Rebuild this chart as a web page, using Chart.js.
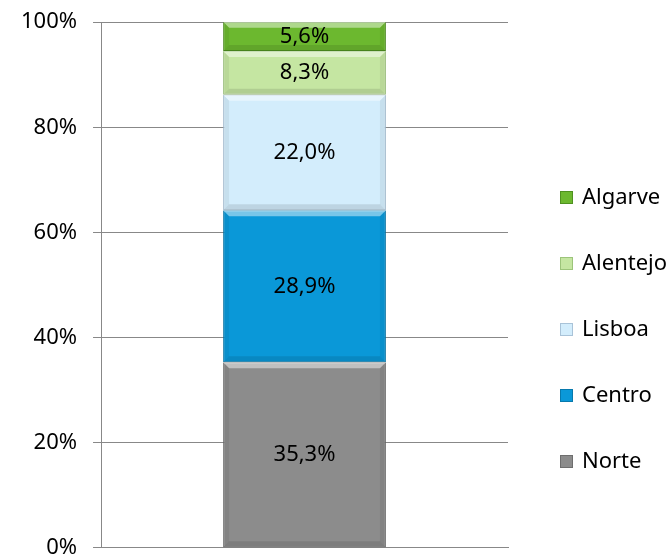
<!DOCTYPE html>
<html>
<head>
<meta charset="utf-8">
<script src="https://cdn.jsdelivr.net/npm/chart.js@4.4.1/dist/chart.umd.min.js"></script>
<style>
  html, body { margin: 0; padding: 0; background: #fff; overflow: hidden; }
  #wrap { width: 671px; height: 584px; margin-top: -7px; }
</style>
</head>
<body>
<div id="wrap"><canvas id="chart"></canvas></div>
<script>
    'use strict';

    // Data
    var categories = ['Total'];
    var seriesNames = ['Norte', 'Centro', 'Lisboa', 'Alentejo', 'Algarve'];
    var seriesValues = [35.3, 28.9, 22.0, 8.3, 5.6];
    var seriesColors = ['#8c8c8c', '#0a98d8', '#d3edfc', '#c5e6a2', '#6cb82f'];
    var seriesBorders = ['#6e6e6e', '#0779ad', '#a9c3d8', '#9cc47a', '#4f9120'];
    var tickValues = [0, 20, 40, 60, 80, 100];

    var FONT = '"Noto Sans", sans-serif';
    var FONT_SIZE = 22;

    function fmt(v) {
        return v.toFixed(1).replace('.', ',') + '%';
    }

    // Bevel-ish shading + value labels in the middle of each segment
    var segmentLabels = {
        id: 'segmentLabels',
        afterDatasetsDraw: function(chart) {
            var ctx = chart.ctx;
            ctx.save();
            chart.data.datasets.forEach(function(ds, i) {
                var meta = chart.getDatasetMeta(i);
                meta.data.forEach(function(bar) {
                    var l = bar.x - bar.width / 2, r = bar.x + bar.width / 2;
                    var t = Math.min(bar.y, bar.base), b = Math.max(bar.y, bar.base);
                    var e = 6;
                    // top highlight
                    ctx.fillStyle = 'rgba(255,255,255,0.45)';
                    ctx.beginPath();
                    ctx.moveTo(l, t); ctx.lineTo(r, t); ctx.lineTo(r - e, t + e); ctx.lineTo(l + e, t + e);
                    ctx.closePath(); ctx.fill();
                    // bottom shade
                    ctx.fillStyle = 'rgba(0,0,0,0.1)';
                    ctx.beginPath();
                    ctx.moveTo(l, b); ctx.lineTo(r, b); ctx.lineTo(r - e, b - e); ctx.lineTo(l + e, b - e);
                    ctx.closePath(); ctx.fill();
                    // side shades
                    ctx.fillStyle = 'rgba(0,0,0,0.06)';
                    ctx.beginPath();
                    ctx.moveTo(l, t); ctx.lineTo(l + e, t + e); ctx.lineTo(l + e, b - e); ctx.lineTo(l, b);
                    ctx.closePath(); ctx.fill();
                    ctx.beginPath();
                    ctx.moveTo(r, t); ctx.lineTo(r - e, t + e); ctx.lineTo(r - e, b - e); ctx.lineTo(r, b);
                    ctx.closePath(); ctx.fill();
                });
            });
            ctx.font = FONT_SIZE + 'px ' + FONT;
            ctx.fillStyle = '#000';
            ctx.textAlign = 'center';
            ctx.textBaseline = 'middle';
            chart.data.datasets.forEach(function(ds, i) {
                var meta = chart.getDatasetMeta(i);
                meta.data.forEach(function(bar, j) {
                    var y = (bar.y + bar.base) / 2;
                    ctx.fillText(fmt(ds.data[j]), bar.x, y);
                });
            });
            ctx.restore();
        }
    };

    // Legend on the right, top entry = last series
    var sideLegend = {
        id: 'sideLegend',
        afterDraw: function(chart) {
            var ctx = chart.ctx;
            var x = 560, y0 = 204, step = 66;
            ctx.save();
            ctx.font = FONT_SIZE + 'px ' + FONT;
            ctx.textBaseline = 'middle';
            ctx.textAlign = 'left';
            var n = chart.data.datasets.length;
            for (var k = 0; k < n; k++) {
                var ds = chart.data.datasets[n - 1 - k];
                var y = y0 + k * step;
                ctx.fillStyle = ds.backgroundColor;
                ctx.fillRect(x, y - 6, 13, 13);
                ctx.strokeStyle = ds.borderColor;
                ctx.lineWidth = 1;
                ctx.strokeRect(x + 0.5, y - 5.5, 12, 12);
                ctx.fillStyle = '#000';
                ctx.fillText(ds.label, x + 22, y + 1);
            }
            ctx.restore();
        }
    };

    var datasets = seriesNames.map(function(name, i) {
        return {
            label: name,
            data: [seriesValues[i]],
            backgroundColor: seriesColors[i],
            borderColor: seriesBorders[i],
            borderWidth: 1,
            borderSkipped: false,
            categoryPercentage: 1,
            barPercentage: 0.4
        };
    });

    new Chart(document.getElementById('chart'), {
        type: 'bar',
        data: { labels: categories, datasets: datasets },
        plugins: [segmentLabels, sideLegend],
        options: {
            responsive: true,
            maintainAspectRatio: false,
            animation: false,
            layout: { padding: { top: 1, right: 163, left: 5, bottom: 0 } },
            plugins: {
                legend: { display: false },
                tooltip: { enabled: false }
            },
            scales: {
                x: {
                    stacked: true,
                    grid: { display: false },
                    border: { display: true, color: '#888', width: 1 },
                    ticks: { display: false }
                },
                y: {
                    stacked: true,
                    min: 0,
                    max: 100,
                    afterBuildTicks: function(axis) {
                        axis.ticks = tickValues.map(function(v) { return { value: v }; });
                    },
                    grid: { color: '#888', lineWidth: 1, tickLength: 8, drawTicks: true },
                    border: { display: true, color: '#888', width: 1 },
                    ticks: {
                        padding: 16,
                        color: '#000',
                        font: { family: FONT, size: FONT_SIZE },
                        callback: function(v) { return v + '%'; }
                    }
                }
            }
        }
    });
</script>
</body>
</html>
